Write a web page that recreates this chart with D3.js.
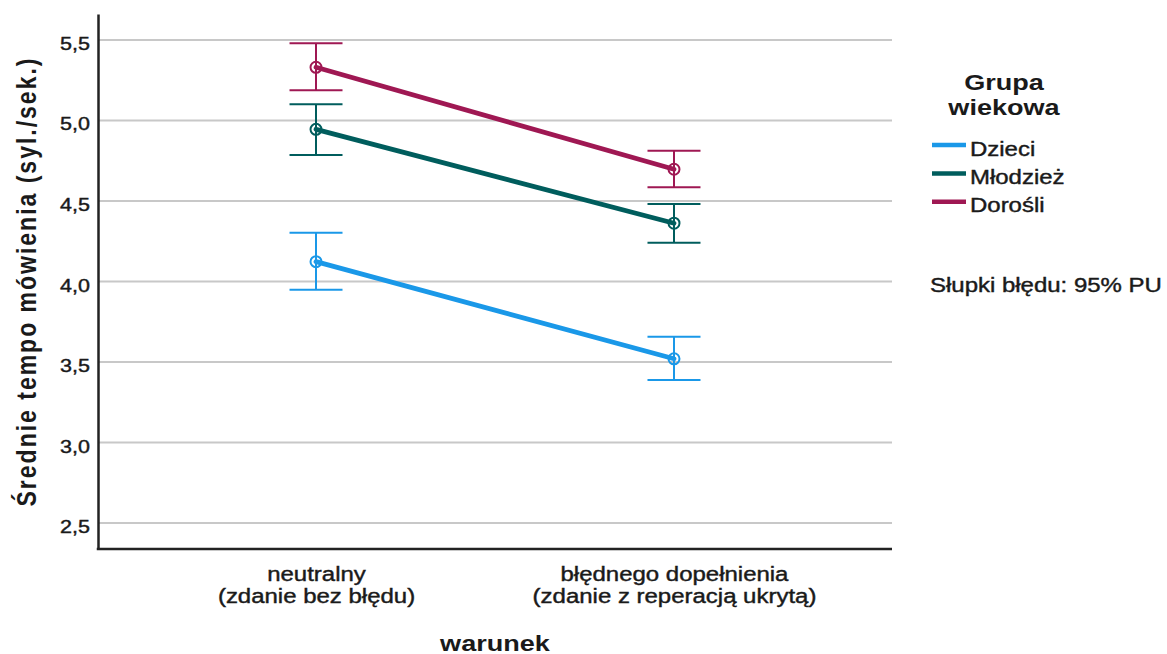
<!DOCTYPE html>
<html>
<head>
<meta charset="utf-8">
<script src="https://cdn.jsdelivr.net/npm/d3@7"></script>
<style>
  html, body { margin: 0; padding: 0; background: #fff; }
  svg { display: block; font-family: "Liberation Sans", Arial, sans-serif; }
  .lbl { fill: #1a1a1a; stroke: #1a1a1a; stroke-width: 0.4px; }
  .ttl { font-weight: bold; fill: #1a1a1a; }
</style>
</head>
<body>
<svg id="chart" width="1167" height="654"></svg>
<script>
// Conditions on the x axis (two-line labels)
const conditions = ["neutralny", "błędnego dopełnienia"];
const conditionSub = ["(zdanie bez błędu)", "(zdanie z reperacją ukrytą)"];

// Age groups
const groups = ["Dzieci", "Młodzież", "Dorośli"];
const groupColors = ["#1a98e8", "#005d5d", "#9f1853"];

// Means per group (neutralny, błędnego dopełnienia)
const meanDzieci   = [4.123, 3.520];
const meanMlodziez = [4.945, 4.362];
const meanDorosli  = [5.330, 4.697];

// 95% CI bounds
const lowDzieci    = [3.949, 3.388];
const highDzieci   = [4.303, 3.657];
const lowMlodziez  = [4.786, 4.241];
const highMlodziez = [5.100, 4.481];
const lowDorosli   = [5.188, 4.585];
const highDorosli  = [5.480, 4.812];

const yTicks = [2.5, 3.0, 3.5, 4.0, 4.5, 5.0, 5.5];

const series = [
  { name: groups[0], color: groupColors[0], mean: meanDzieci,   low: lowDzieci,   high: highDzieci },
  { name: groups[1], color: groupColors[1], mean: meanMlodziez, low: lowMlodziez, high: highMlodziez },
  { name: groups[2], color: groupColors[2], mean: meanDorosli,  low: lowDorosli,  high: highDorosli }
];

// Text is drawn with a wide set: glyphs stretched horizontally
const WIDE = 1.23;
const wide = (tx, ty) => `translate(${tx},${ty}) scale(${WIDE},1)`;

const svg = d3.select("#chart");
const plot = { left: 98, right: 892, top: 14, bottom: 549 };

const y = d3.scaleLinear().domain([2.339, 5.661]).range([plot.bottom, plot.top]);
const x = d3.scalePoint().domain(conditions).range([plot.left, plot.right]).padding(0.609);

// Horizontal gridlines
svg.append("g")
  .selectAll("line")
  .data(yTicks)
  .join("line")
  .attr("x1", plot.left).attr("x2", plot.right)
  .attr("y1", d => y(d)).attr("y2", d => y(d))
  .attr("stroke", "#c8c8c8").attr("stroke-width", 2);

// Y axis
const fmt = d => d3.format(".1f")(d).replace(".", ",");
const yAxis = svg.append("g")
  .attr("transform", `translate(${plot.left},0)`)
  .call(d3.axisLeft(y).tickValues(yTicks).tickFormat(fmt).tickSize(0));
yAxis.select(".domain").attr("stroke", "#222").attr("stroke-width", 2.5);
yAxis.selectAll("text")
  .attr("class", "lbl").attr("font-family", null).attr("font-size", 17.5)
  .attr("x", 0).attr("dy", null).attr("y", 0)
  .attr("transform", wide(-8, 9.5));

// X axis
const xAxis = svg.append("g")
  .attr("transform", `translate(0,${plot.bottom})`)
  .call(d3.axisBottom(x).tickSize(0).tickFormat(() => ""));
xAxis.select(".domain").attr("d", `M${plot.left - 1.25},0H${plot.right}`)
  .attr("stroke", "#222").attr("stroke-width", 2.5);
xAxis.selectAll(".tick text").remove();
xAxis.selectAll(".tick").each(function(d, i) {
  const t = d3.select(this).append("text")
    .attr("class", "lbl").attr("text-anchor", "middle").attr("font-size", 19.5)
    .attr("transform", wide(0, 0));
  t.append("tspan").attr("x", 0).attr("y", 32).text(d);
  t.append("tspan").attr("x", 0).attr("y", 54).text(conditionSub[i]);
});

// Axis titles
svg.append("text")
  .attr("class", "ttl")
  .attr("transform", `translate(36,${(plot.top + plot.bottom) / 2}) rotate(-90) scale(1,${WIDE})`)
  .attr("text-anchor", "middle").attr("font-size", 23).style("letter-spacing", "2px")
  .text("Średnie tempo mówienia (syl./sek.)");

svg.append("text")
  .attr("class", "ttl")
  .attr("transform", wide((plot.left + plot.right) / 2, 651))
  .attr("text-anchor", "middle").attr("font-size", 22)
  .text("warunek");

// Lines
const line = d3.line().x((d, i) => x(conditions[i])).y(d => y(d));
const g = svg.append("g");
series.forEach(s => {
  g.append("path").datum(s.mean)
    .attr("d", line).attr("fill", "none")
    .attr("stroke", s.color).attr("stroke-width", 4.8).attr("stroke-linecap", "round");
});

// Error bars and markers
const capHalf = 26.5;
series.forEach(s => {
  conditions.forEach((c, i) => {
    const cx = x(c);
    const eb = g.append("g").attr("stroke", s.color).attr("stroke-width", 2).attr("fill", "none");
    eb.append("line").attr("x1", cx).attr("x2", cx).attr("y1", y(s.low[i])).attr("y2", y(s.high[i]));
    eb.append("line").attr("x1", cx - capHalf).attr("x2", cx + capHalf).attr("y1", y(s.low[i])).attr("y2", y(s.low[i]));
    eb.append("line").attr("x1", cx - capHalf).attr("x2", cx + capHalf).attr("y1", y(s.high[i])).attr("y2", y(s.high[i]));
    eb.append("circle").attr("cx", cx).attr("cy", y(s.mean[i])).attr("r", 5.5)
      .attr("fill", "none").attr("stroke-width", 2);
  });
});

// Legend
const lg = svg.append("g");
const legendTitle = lg.append("text")
  .attr("class", "ttl").attr("text-anchor", "middle").attr("font-size", 22)
  .attr("transform", wide(1004, 0));
legendTitle.append("tspan").attr("x", 0).attr("y", 90).text("Grupa");
legendTitle.append("tspan").attr("x", 0).attr("y", 115).text("wiekowa");

const entry = lg.selectAll("g.entry").data(series).join("g").attr("class", "entry")
  .attr("transform", (d, i) => `translate(932,${145 + i * 28.4})`);
entry.append("line").attr("x1", 0).attr("x2", 34).attr("y1", 0).attr("y2", 0)
  .attr("stroke", d => d.color).attr("stroke-width", 4.5);
entry.append("text").attr("class", "lbl").attr("font-size", 19.5)
  .attr("transform", wide(38, 10.5)).text(d => d.name);

svg.append("text").attr("class", "lbl").attr("font-size", 19.5)
  .attr("transform", wide(930, 292))
  .text("Słupki błędu: 95% PU");
</script>
</body>
</html>
